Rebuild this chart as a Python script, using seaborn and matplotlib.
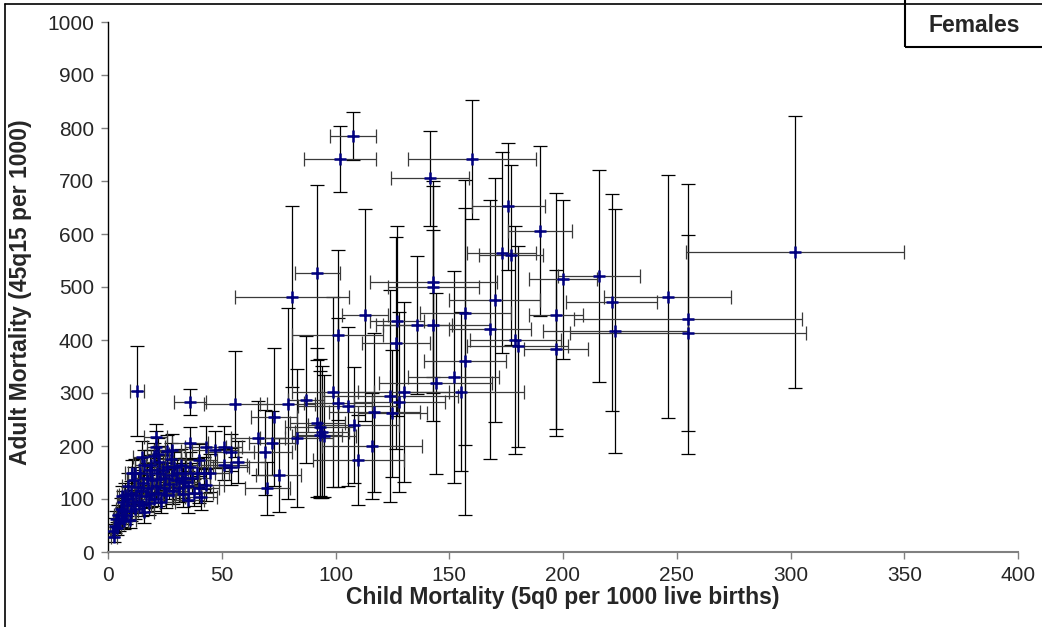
import matplotlib
matplotlib.use("Agg")
import matplotlib.pyplot as plt
from matplotlib.lines import Line2D
from matplotlib.patches import Rectangle
import seaborn as sns
import pandas as pd

# ---- data: (child mortality, adult mortality, x half-error, y half-error)
child_mortality = [
    302, 107.7, 102, 160, 141.5, 176, 190, 173, 177, 92, 81, 143, 143, 170, 157, 200,
    216, 246, 221.5, 197, 255, 223, 255, 179, 180, 197, 113, 127, 136, 143, 168, 101,
    126.6, 157, 152, 144, 155, 99, 130, 124, 87, 101, 128, 79, 105.5, 117, 125, 92,
    93, 94, 93, 95, 108, 83, 116, 110, 73, 66, 72, 69, 75, 70, 56, 36, 12.7, 36, 43,
    47, 51, 54, 57, 51, 54, 40, 28, 21, 21, 20, 15, 34, 42, 43, 41, 35, 33, 45, 10.5,
    2.6, 2, 3, 3.5, 4, 4.5, 5, 5.5, 6, 6.5, 7, 7, 7.5, 8, 8.5, 9, 9, 10, 10, 11, 11.5,
    12, 12.5, 13, 13.5, 14, 14.5, 15, 15.5, 16, 16.5, 17, 17.5, 18, 18.5, 19, 19.5, 20,
    21, 21.5, 22, 22.5, 23, 23.5, 24, 24.5, 25, 25.5, 26, 27, 27.5, 28, 28.5, 29, 30,
    30.5, 31, 32, 32.5, 33, 34, 35, 36, 37, 38, 39, 40, 6, 9.5, 12, 19, 22, 26, 16,
]
adult_mortality = [
    566, 785, 742, 741, 705, 652, 606, 565, 560, 527, 482, 510, 500, 475, 451, 515,
    520, 482, 471, 448, 440, 417, 413, 400, 388, 383, 447, 436, 428, 428, 420, 410,
    395, 360, 330, 318, 302, 302, 302, 295, 287, 282, 283, 280, 275, 264, 262, 244,
    235, 226, 221, 219, 240, 215, 200, 174, 255, 215, 206, 188, 146, 120, 279, 283, 304,
    206, 198, 193, 198, 188, 170, 165, 161, 173, 193, 217, 198, 181, 180, 133, 149, 126,
    104, 98, 132, 149, 149,
    28, 40, 50, 62, 45, 70, 55, 82, 65, 95, 58, 78, 108, 70, 88, 100, 125, 78, 112, 95,
    135, 82, 108, 122, 95, 150, 115, 88, 130, 165, 105, 140, 120, 92, 155, 110, 135, 100,
    125, 150, 112, 170, 138, 95, 155, 120, 140, 108, 160, 128, 175, 145, 115, 160, 135,
    150, 120, 165, 140, 110, 150, 125, 160, 140, 112, 150, 120, 105, 60, 150, 165, 185,
    190, 75,
]
child_err = [
    48, 10, 16, 28, 17, 16, 14, 15, 14, 10, 25, 28, 20, 20, 20, 15,
    18, 28, 20, 12, 50, 32, 52, 20, 22, 14, 10, 12, 15, 25, 18, 20,
    15, 18, 20, 25, 28, 18, 20, 30, 8, 15, 20, 12, 22, 20, 15, 12,
    15, 12, 10, 14, 20, 16, 22, 20, 10, 12, 10, 12, 10, 10, 14, 7, 3, 8, 9,
    10, 8, 10, 12, 10, 8, 8, 6, 5, 4, 5, 4, 6, 8, 8, 7, 7, 7, 8, 3,
    1.5, 1, 1, 1.5, 1.5, 2, 2, 2, 2, 2, 2, 2.5, 2.5, 2.5, 3, 3, 3, 3, 3, 3, 3,
    3, 4, 4, 4, 4, 4, 4, 4, 4, 4, 5, 5, 5, 5, 5, 5, 5,
    5, 5, 6, 6, 6, 6, 6, 6, 6, 6, 6, 7, 7, 7, 7, 7, 7,
    7, 7, 7, 7, 8, 8, 8, 8, 8, 8, 8, 9, 2, 3, 3, 5, 5, 6, 4,
]
adult_err = [
    256, 45, 62, 112, 90, 120, 160, 190, 170, 165, 170, 180, 200, 230, 250, 150,
    200, 230, 205, 230, 255, 230, 185, 215, 190, 150, 200, 180, 130, 180, 245, 160,
    200, 290, 200, 170, 150, 180, 170, 200, 120, 160, 170, 180, 150, 150, 120, 140,
    130, 125, 120, 115, 110, 130, 100, 85, 130, 70, 60, 80, 70, 50, 100, 25, 85,
    30, 40, 35, 40, 35, 40, 30, 35, 30, 30, 25, 30, 25, 30, 35, 30, 30,
    25, 25, 30, 35, 25,
    10, 12, 15, 15, 12, 18, 15, 20, 18, 20, 15, 20, 22, 18, 20, 22, 25, 20, 22, 22,
    25, 20, 22, 25, 22, 28, 25, 20, 25, 28, 22, 28, 25, 22, 28, 25, 25, 22,
    25, 28, 25, 30, 28, 22, 28, 25, 28, 25, 28, 28, 30, 28, 25, 28, 28,
    28, 25, 30, 28, 25, 28, 28, 28, 28, 25, 28, 28, 20, 15, 25, 28, 30,
    30, 20,
]

x_ticks = [0, 50, 100, 150, 200, 250, 300, 350, 400]
y_ticks = [0, 100, 200, 300, 400, 500, 600, 700, 800, 900, 1000]
x_label = "Child Mortality (5q0 per 1000 live births)"
y_label = "Adult Mortality (45q15 per 1000)"
panel_label = "Females"

df = pd.DataFrame({"child": child_mortality, "adult": adult_mortality,
                   "cerr": child_err, "aerr": adult_err})

sns.set_theme(style="white")
plt.rcParams["font.family"] = ["Liberation Sans", "DejaVu Sans"]

W, H = 1042, 627
fig = plt.figure(figsize=(W / 100, H / 100), dpi=100)
ax = fig.add_axes([108 / W, 1 - 552 / H, (1018 - 108) / W, (552 - 22) / H])

ax.errorbar(df["child"], df["adult"], yerr=df["aerr"], fmt="none",
            ecolor="black", elinewidth=0.9, capsize=5, capthick=0.9, zorder=2)
ax.errorbar(df["child"], df["adult"], xerr=df["cerr"], fmt="none",
            ecolor="#3a3a3a", elinewidth=0.9, capsize=5, capthick=0.9, zorder=2)
sns.scatterplot(data=df, x="child", y="adult", marker="+", s=80,
                color="#000080", linewidth=1.8, ax=ax, zorder=3, legend=False)

ax.set_xlim(0, 400)
ax.set_ylim(0, 1000)
ax.set_xticks(x_ticks)
ax.set_yticks(y_ticks)
ax.tick_params(axis="both", labelsize=15, length=5, width=1, color="#808080",
               direction="out", bottom=True, left=True, pad=5)
for s in ["top", "right"]:
    ax.spines[s].set_visible(False)
ax.spines["left"].set_color("black")
ax.spines["left"].set_linewidth(1.0)
ax.spines["bottom"].set_color("#808080")
ax.spines["bottom"].set_linewidth(1.5)
ax.set_xlabel(x_label, fontsize=16.5, fontweight="bold", labelpad=1)
ax.set_ylabel(y_label, fontsize=16.5, fontweight="bold")
ax.yaxis.set_label_coords(-0.0835, 0.49)
ax.grid(False)

# figure border (left and top visible)
fig.add_artist(Line2D([5 / W, 5 / W], [0, 1 - 4 / H], color="black", lw=1.2))
fig.add_artist(Line2D([5 / W, 1], [1 - 4 / H, 1 - 4 / H], color="black", lw=1.2))

# Females box
fig.add_artist(Rectangle((905 / W, 1 - 47 / H), 200 / W, 60 / H, fill=False,
                         edgecolor="black", lw=1.5, transform=fig.transFigure))
fig.text(929 / W, 1 - 25 / H, panel_label, fontsize=16.5, fontweight="bold",
         va="center", ha="left")

fig.savefig("out.png", dpi=100)
